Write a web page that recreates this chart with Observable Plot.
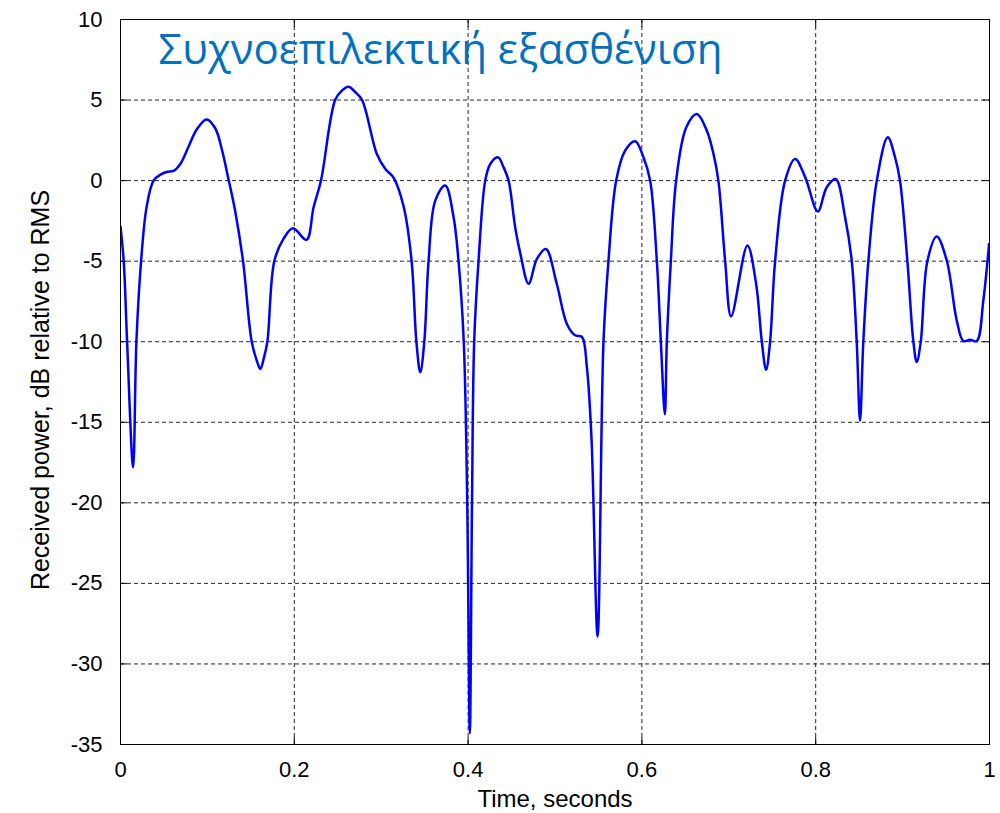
<!DOCTYPE html>
<html>
<head>
<meta charset="utf-8">
<script src="https://cdn.jsdelivr.net/npm/d3@7"></script>
<script src="https://cdn.jsdelivr.net/npm/@observablehq/plot@0.6"></script>
<style>
  html, body { margin: 0; padding: 0; background: #fff; }
  #chart svg { display: block; }
</style>
</head>
<body>
<div id="chart"></div>
<script>
const title = "Συχνοεπιλεκτική εξασθένιση";
const xLabel = "Time, seconds";
const yLabel = "Received power, dB relative to RMS";
const xTicks = [0, 0.2, 0.4, 0.6, 0.8, 1];
const yTicks = [-35, -30, -25, -20, -15, -10, -5, 0, 5, 10];

const time = [
  0.000, 0.0037, 0.0076, 0.0145, 0.0183, 0.0237, 0.030, 0.038, 0.046, 0.054,
  0.061, 0.069, 0.078, 0.088, 0.099, 0.109, 0.1168, 0.123, 0.132, 0.141,
  0.151, 0.157, 0.161, 0.165, 0.169, 0.177, 0.1877, 0.1985, 0.214, 0.2222,
  0.2307, 0.247, 0.255, 0.2625, 0.270, 0.278, 0.295, 0.305, 0.314, 0.326,
  0.335, 0.3405, 0.345, 0.3496, 0.3545, 0.3622, 0.3737, 0.3833, 0.389, 0.395,
  0.399, 0.402, 0.4045, 0.407, 0.412, 0.4197, 0.4255, 0.4343, 0.4408, 0.4466,
  0.4542, 0.460, 0.4696, 0.4792, 0.4895, 0.502, 0.5137, 0.523, 0.531, 0.5367,
  0.542, 0.549, 0.5558, 0.5615, 0.5704, 0.5807, 0.5923, 0.6018, 0.6095, 0.6172,
  0.6218, 0.6264, 0.6287, 0.6333, 0.6394, 0.651, 0.6632, 0.6747, 0.6824, 0.688,
  0.6958, 0.7027, 0.7214, 0.7314, 0.738, 0.7429, 0.7475, 0.7533, 0.7648, 0.7763,
  0.788, 0.8024, 0.8127, 0.823, 0.8338, 0.8415, 0.8472, 0.851, 0.8548, 0.8606,
  0.8703, 0.8829, 0.8913, 0.897, 0.9055, 0.9124, 0.9163, 0.9209, 0.9285, 0.9393,
  0.9508, 0.9623, 0.9699, 0.9776, 0.9853, 0.9929, 0.9995
];
const power = [
  -2.85, -5, -10, -17.8, -10, -5, -1.65, 0, 0.37, 0.55,
  0.6, 1.05, 2.07, 3.2, 3.8, 3.25, 1.9, 0.4, -1.9, -5,
  -10, -11.2, -11.7, -11.0, -10, -5, -3.6, -2.96, -3.68, -1.65,
  0, 5, 5.6, 5.83, 5.5, 5, 1.65, 0.7, 0.2, -1.65,
  -5, -10, -11.9, -10, -5, -1.24, -0.3, -2.27, -5, -10,
  -20, -34.3, -20, -10, -5, 0, 1.03, 1.45, 0.83, 0,
  -2.9, -4.5, -6.4, -4.86, -4.24, -6.4, -8.9, -9.6, -9.7, -11.6,
  -16, -28.3, -10, -5, 0, 1.86, 2.44, 1.45, 0, -5,
  -10, -14.5, -10, -5, 0, 3.3, 4.13, 3.1, 1.65, 0,
  -5, -8.43, -4.03, -6.4, -10, -11.74, -10, -5, 0, 1.34,
  0.2, -1.92, -0.41, 0.1, -2.27, -5, -10, -14.9, -10, -5,
  0, 2.69, 1.45, 0, -5, -10, -11.26, -10, -5, -3.47,
  -4.96, -8.68, -9.96, -9.88, -9.96, -7.44, -3.93
];

const data = time.map((t, i) => ({t, p: power[i]}));
const fmt = d => String(d);

const chart = Plot.plot({
  width: 1000,
  height: 813,
  marginLeft: 120,
  marginRight: 11,
  marginTop: 19,
  marginBottom: 69,
  style: {fontFamily: "'Liberation Sans', Arial, sans-serif", fontSize: "22px", color: "#000", background: "#fff"},
  x: {domain: [0, 1]},
  y: {domain: [-35, 10]},
  marks: [
    Plot.gridX(xTicks.slice(1, -1), {stroke: "#000", strokeOpacity: 0.85, strokeDasharray: "4,3"}),
    Plot.gridY(yTicks.slice(1, -1), {stroke: "#000", strokeOpacity: 0.85, strokeDasharray: "4,3"}),
    Plot.axisX(xTicks, {anchor: "bottom", tickSize: -7, tickPadding: 24, tickFormat: fmt, label: null, fontSize: 22}),
    Plot.axisX(xTicks, {anchor: "top", tickSize: -7, tickFormat: () => "", label: null}),
    Plot.axisY(yTicks, {anchor: "left", tickSize: -7, tickPadding: 25, tickFormat: fmt, label: null, fontSize: 22}),
    Plot.axisY(yTicks, {anchor: "right", tickSize: -7, tickFormat: () => "", label: null}),
    Plot.line(data, {x: "t", y: "p", stroke: "#0000ff", strokeWidth: 2.5, curve: "catmull-rom", clip: true}),
    Plot.frame({stroke: "#000", strokeWidth: 1}),
    Plot.text([title], {frameAnchor: "top-left", dx: 38, dy: 44.5, lineAnchor: "bottom", textAnchor: "start",
      fill: "#0070c0", fontSize: 42, fontFamily: "'Open Sans', 'Noto Sans', sans-serif"}),
    Plot.text([xLabel], {frameAnchor: "bottom", dy: 62.5, lineAnchor: "bottom", fontSize: 24, fill: "#000"}),
    Plot.text([yLabel], {frameAnchor: "left", dx: -72, dy: 8, rotate: -90, textAnchor: "middle", lineAnchor: "bottom", fontSize: 25, fill: "#000"})
  ]
});
document.getElementById("chart").appendChild(chart);
</script>
</body>
</html>
